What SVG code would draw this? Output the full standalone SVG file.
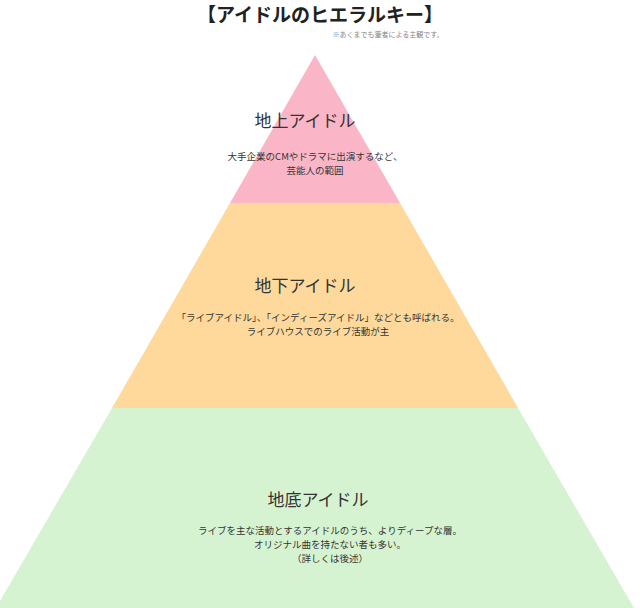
<svg xmlns="http://www.w3.org/2000/svg" width="640" height="608" viewBox="0 0 640 608">
<style>
text{font-family:"Noto Sans CJK JP","Noto Sans",sans-serif;fill:#333;text-anchor:middle}
.h{font-size:17px}
.d{font-size:9.5px}
</style>
<rect width="640" height="608" fill="#fff"/>
<text x="320" y="22" style="font-size:19px;font-weight:bold;fill:#222">【アイドルのヒエラルキー】</text>
<text x="388" y="37" style="font-size:7px;fill:#888">※あくまでも筆者による主観です。</text>
<g id="top">
<polygon points="315,55 400,203 230,203" fill="#fab6c6"/>
<text class="h" x="305" y="127">地上アイドル</text>
<text class="d" x="315" y="160">大手企業のCMやドラマに出演するなど、</text>
<text class="d" x="315" y="174">芸能人の範囲</text>
</g>
<g id="middle">
<polygon points="230,203 400,203 518,408 112,408" fill="#fed99b"/>
<text class="h" x="305" y="292">地下アイドル</text>
<text class="d" x="318" y="321">「ライブアイドル」、「インディーズアイドル」などとも呼ばれる。</text>
<text class="d" x="318" y="335">ライブハウスでのライブ活動が主</text>
</g>
<g id="bottom">
<polygon points="112,408 518,408 634,608 -4,608" fill="#d6f3d1"/>
<text class="h" x="318" y="506">地底アイドル</text>
<text class="d" x="330" y="534">ライブを主な活動とするアイドルのうち、よりディープな層。</text>
<text class="d" x="330" y="548">オリジナル曲を持たない者も多い。</text>
<text class="d" x="330" y="562">（詳しくは後述）</text>
</g>
<g id="connectors"/>
</svg>
